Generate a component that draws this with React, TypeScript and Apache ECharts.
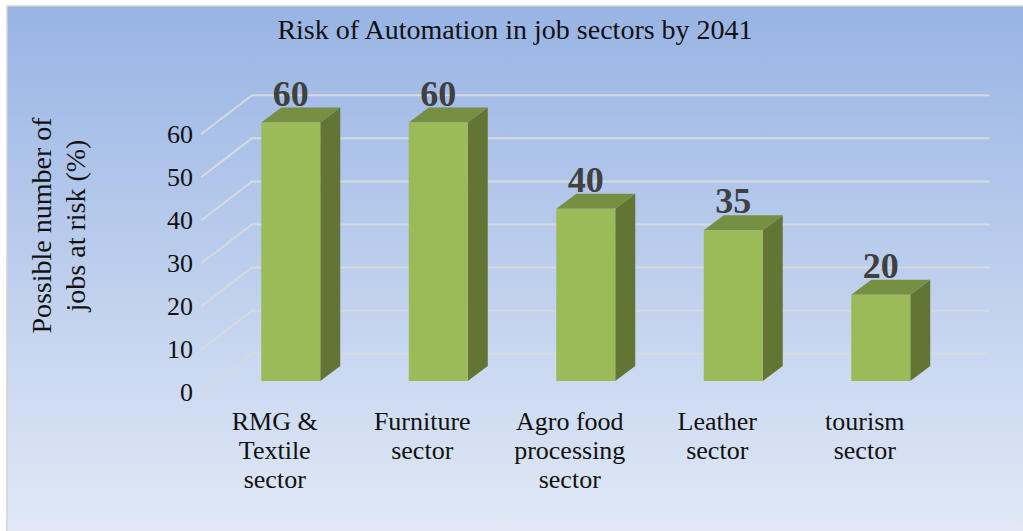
import React, { useEffect, useRef } from "react";
import * as echarts from "echarts";

const categories = [
  "RMG &\nTextile\nsector",
  "Furniture\nsector",
  "Agro food\nprocessing\nsector",
  "Leather\nsector",
  "tourism\nsector",
];
const riskValues = [60, 60, 40, 35, 20];
const gridTicks = [0, 10, 20, 30, 40, 50, 60];

const SERIF = "'Liberation Serif', serif";
// Oblique projection of the chart's floor: full depth of the side walls.
const WALL_DX = 51;
const WALL_DY = -39;
// The bars stand part of the way back on the floor and have their own depth.
const BAR_INSET_X = 16;
const BAR_INSET_Y = -11.7;
const BAR_WIDTH = 59;
const BAR_DX = 20;
const BAR_DY = -15;

export default function App() {
  const ref = useRef<HTMLDivElement>(null);

  useEffect(() => {
    const chart = echarts.init(ref.current!, undefined, { renderer: "svg" });
    chart.setOption({
      animation: false,
      backgroundColor: "#ffffff",
      graphic: [
        {
          type: "rect",
          z: -10,
          silent: true,
          shape: { x: 7, y: 6, width: 1030, height: 540 },
          style: {
            fill: new echarts.graphic.LinearGradient(0, 0, 0, 1, [
              { offset: 0, color: "#98B4E4" },
              { offset: 1, color: "#E3EAF7" },
            ]),
            stroke: "#D4D4D4",
            lineWidth: 1.5,
          },
        },
      ],
      title: {
        text: "Risk of Automation in job sectors by 2041",
        left: 510,
        top: 10,
        textAlign: "center",
        textStyle: { fontFamily: SERIF, fontSize: 28, fontWeight: "normal", color: "#111111" },
      },
      grid: {
        left: 201,
        top: 134.3,
        width: 737.5,
        height: 258.4,
        containLabel: false,
        outerBoundsMode: "none",
      },
      xAxis: {
        type: "category",
        data: categories,
        axisLine: { show: false },
        axisTick: { show: false },
        axisLabel: {
          interval: 0,
          margin: 14,
          fontFamily: SERIF,
          fontSize: 26,
          lineHeight: 29,
          color: "#111111",
        },
      },
      yAxis: {
        type: "value",
        min: 0,
        max: 60,
        interval: 10,
        name: "Possible number of\njobs at risk (%)",
        nameLocation: "middle",
        nameRotate: 90,
        nameGap: 109,
        nameTextStyle: {
          fontFamily: SERIF,
          fontSize: 28,
          lineHeight: 34,
          color: "#111111",
          // Lifts the rotated title above the middle of the axis.
          padding: [0, 0, 0, 76],
        },
        axisLine: { show: false },
        axisTick: { show: false },
        splitLine: { show: false },
        axisLabel: { margin: 8, fontFamily: SERIF, fontSize: 26, color: "#111111" },
      },
      series: [
        {
          // Side wall and back wall gridlines of the 3D plot area.
          type: "custom",
          z: 1,
          clip: false,
          silent: true,
          data: gridTicks.map((t) => [0, t]),
          encode: { x: 0, y: 1 },
          renderItem: (params: any, api: any) => {
            const y = api.coord([0, api.value(1)])[1];
            const left = params.coordSys.x;
            const right = left + params.coordSys.width;
            return {
              type: "polyline",
              shape: {
                points: [
                  [left, y],
                  [left + WALL_DX, y + WALL_DY],
                  [right + WALL_DX, y + WALL_DY],
                ],
              },
              style: { fill: "none", stroke: "#D6D9DE", lineWidth: 2 },
            };
          },
        },
        {
          // Extruded bars: front, side and top faces plus the value above them.
          type: "custom",
          z: 2,
          clip: false,
          silent: true,
          data: riskValues.map((v, i) => [i, v]),
          encode: { x: 0, y: 1 },
          renderItem: (_params: any, api: any) => {
            const top = api.coord([api.value(0), api.value(1)]);
            const base = api.coord([api.value(0), 0]);
            const x0 = top[0] + BAR_INSET_X - BAR_WIDTH / 2;
            const x1 = x0 + BAR_WIDTH;
            const y0 = top[1] + BAR_INSET_Y;
            const y1 = base[1] + BAR_INSET_Y;
            return {
              type: "group",
              children: [
                {
                  type: "polygon",
                  shape: {
                    points: [
                      [x1, y0],
                      [x1 + BAR_DX, y0 + BAR_DY],
                      [x1 + BAR_DX, y1 + BAR_DY],
                      [x1, y1],
                    ],
                  },
                  style: { fill: "#637535" },
                },
                {
                  type: "polygon",
                  shape: {
                    points: [
                      [x0, y0],
                      [x0 + BAR_DX, y0 + BAR_DY],
                      [x1 + BAR_DX, y0 + BAR_DY],
                      [x1, y0],
                    ],
                  },
                  style: { fill: "#778F42" },
                },
                {
                  type: "rect",
                  shape: { x: x0, y: y0, width: BAR_WIDTH, height: y1 - y0 },
                  style: { fill: "#9BBB59" },
                },
                {
                  type: "text",
                  style: {
                    x: (x0 + x1) / 2,
                    y: y0 - 29,
                    text: String(api.value(1)),
                    align: "center",
                    verticalAlign: "middle",
                    fontFamily: SERIF,
                    fontSize: 36,
                    fontWeight: "bold",
                    fill: "#404040",
                  },
                },
              ],
            };
          },
        },
      ],
    });
    return () => chart.dispose();
  }, []);

  return (
    <div
      ref={ref}
      style={{ position: "fixed", left: 0, top: 0, width: 1023, height: 531, overflow: "hidden" }}
    />
  );
}
